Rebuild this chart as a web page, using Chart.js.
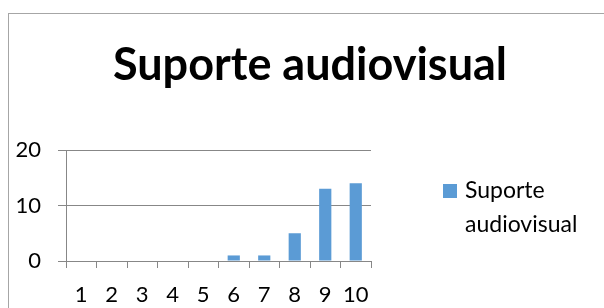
<!DOCTYPE html>
<html><head><meta charset="utf-8">
<script src="https://cdn.jsdelivr.net/npm/chart.js@4.4.1/dist/chart.umd.min.js"></script>
<style>
html,body{margin:0;padding:0;background:#fff;}
#wrap{position:relative;width:604px;height:308px;overflow:hidden;}
#frame{position:absolute;left:8px;top:13px;width:700px;height:400px;border:1px solid #a6a6a6;box-sizing:border-box;}
#box{position:absolute;left:0;top:0;width:604px;height:308px;}
</style></head><body>
<div id="wrap"><div id="frame"></div><div id="box"><canvas id="c"></canvas></div></div>
<script>
const chartTitle = 'Suporte audiovisual';
const categories = ['1','2','3','4','5','6','7','8','9','10'];
const seriesName = 'Suporte audiovisual';
const seriesValues = [0, 0, 0, 0, 0, 1, 1, 5, 13, 14];
const yTickValues = [0, 10, 20];

const barColor = '#5B9BD5';
const lineColor = '#878787';
const fontFamily = 'Lato, "Open Sans", sans-serif';

const overlay = {
  id: 'overlay',
  afterDraw(chart) {
    const ctx = chart.ctx;
    ctx.save();
    ctx.fillStyle = '#000';
    ctx.font = 'bold 45px ' + fontFamily;
    ctx.textAlign = 'center';
    ctx.textBaseline = 'alphabetic';
    ctx.fillText(chartTitle, 310, 80);
    const ds = chart.data.datasets[0];
    ctx.fillStyle = ds.backgroundColor;
    ctx.fillRect(443, 184, 14, 14);
    ctx.fillStyle = '#000';
    ctx.font = '23px ' + fontFamily;
    ctx.textAlign = 'left';
    ds.label.split(' ').forEach((t, i) => ctx.fillText(t, 465, 198 + i * 34));
    ctx.restore();
  }
};

new Chart(document.getElementById('c'), {
  type: 'bar',
  data: {
    labels: categories,
    datasets: [{
      label: seriesName,
      data: seriesValues,
      backgroundColor: barColor,
      borderWidth: 0,
      barPercentage: 0.4,
      categoryPercentage: 1.0
    }]
  },
  options: {
    responsive: true,
    maintainAspectRatio: false,
    animation: false,
    devicePixelRatio: 1,
    layout: { padding: { left: 0, top: 150, right: 233, bottom: 0 } },
    plugins: { legend: { display: false }, title: { display: false }, tooltip: { enabled: false } },
    scales: {
      x: {
        offset: true,
        grid: { offset: true, drawOnChartArea: false, drawTicks: true, tickLength: 7, color: lineColor },
        border: { display: true, color: lineColor },
        ticks: { color: '#000', font: { family: fontFamily, size: 22 }, padding: 14, maxRotation: 0, autoSkip: false },
        afterFit(s) { s.height = 47; }
      },
      y: {
        min: 0, max: 20,
        afterBuildTicks(s) { s.ticks = yTickValues.map(v => ({ value: v })); },
        ticks: { color: '#000', font: { family: fontFamily, size: 22 }, padding: 17 },
        grid: { color: lineColor, tickLength: 8 },
        border: { display: true, color: lineColor },
        afterFit(s) { s.width = 66; }
      }
    }
  },
  plugins: [overlay]
});
</script>
</body></html>
